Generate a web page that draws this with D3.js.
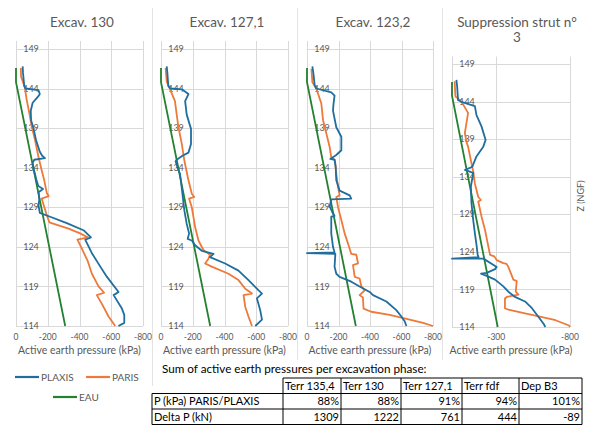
<!DOCTYPE html>
<html>
<head>
<meta charset="utf-8">
<script src="https://cdn.jsdelivr.net/npm/d3@7"></script>
<style>
  html, body { margin: 0; padding: 0; background: #fff; }
  svg { display: block; font-family: Lato, "Open Sans", sans-serif; }
</style>
</head>
<body>
<script>
// ---------------- DATA ----------------
const panelTitles = [["Excav. 130"], ["Excav. 127,1"], ["Excav. 123,2"], ["Suppression strut n°", "3"]];
const zTicks = [114, 119, 124, 129, 134, 139, 144, 149];
const pTicksA = [0, -200, -400, -600, -800];
const pTicksB = [-300, -800];

// [pressure kPa, Z NGF]
const eau = [[0, 146.6], [0, 144.8], [-310, 114]];

const plaxis130 = [[-42,146.8],[-44,146.0],[-52,144.3],[-60,144.0],[-141,143.8],[-150,143.3],[-140,143.0],[-105,142.2],[-93,141.2],[-95,140.0],[-110,139.0],[-126,137.5],[-150,136.0],[-165,135.5],[-182,135.2],[-115,135.0],[-105,134.6],[-112,133.8],[-128,132.5],[-140,131.7],[-170,131.3],[-142,130.9],[-147,130.0],[-142,129.2],[-150,128.3],[-215,127.8],[-320,127.0],[-425,126.1],[-472,125.2],[-436,124.9],[-478,123.2],[-531,121.5],[-573,120.2],[-646,118.3],[-615,117.9],[-667,116.2],[-682,115.4],[-682,114.4],[-645,114.0]];
const paris130 = [[-30,146.6],[-32,145.5],[-55,144.2],[-67,142.6],[-84,140.9],[-99,139.2],[-120,137.5],[-141,135.4],[-160,133.8],[-178,132.4],[-194,130.8],[-206,130.4],[-162,130.1],[-177,129.1],[-194,128.0],[-210,127.1],[-331,126.3],[-404,125.7],[-452,125.2],[-387,124.9],[-414,123.8],[-450,122.3],[-478,120.6],[-520,119.0],[-555,118.2],[-509,117.9],[-541,116.8],[-583,115.2],[-625,114.0]];

const plaxis1271 = [[-36,146.8],[-40,146.0],[-46,144.3],[-60,144.0],[-131,143.9],[-173,143.3],[-152,142.4],[-162,140.7],[-189,138.9],[-189,137.0],[-173,135.9],[-135,135.5],[-99,135.0],[-92,134.8],[-105,134.0],[-120,133.2],[-135,130.7],[-147,128.6],[-162,126.9],[-177,125.7],[-168,125.0],[-194,124.8],[-215,124.2],[-257,123.5],[-331,123.1],[-309,122.7],[-404,121.9],[-488,121.0],[-551,119.8],[-615,118.5],[-636,118.1],[-604,117.5],[-625,116.0],[-636,114.8],[-594,114.0]];
const paris1271 = [[-29,146.6],[-36,144.9],[-57,143.9],[-88,142.4],[-99,140.7],[-110,139.1],[-131,137.0],[-147,134.9],[-173,132.4],[-194,130.7],[-210,130.3],[-177,130.1],[-194,129.0],[-215,126.5],[-236,124.8],[-267,123.6],[-309,123.0],[-299,122.5],[-278,121.9],[-320,121.5],[-425,120.6],[-488,119.8],[-531,118.7],[-573,118.1],[-520,117.9],[-531,116.4],[-551,115.2],[-573,114.0]];

const plaxis1232 = [[-34,146.8],[-40,146.0],[-49,144.4],[-59,144.0],[-154,143.5],[-175,143.1],[-168,142.0],[-165,141.2],[-186,139.1],[-218,137.9],[-218,136.2],[-186,135.6],[-148,135.1],[-175,135.0],[-182,134.1],[-186,132.4],[-207,131.1],[-271,130.5],[-281,130.1],[-154,130.0],[-144,129.1],[-165,128.2],[-175,127.9],[-154,127.8],[-154,125.7],[-165,124.0],[-175,123.3],[0,123.2],[-180,123.1],[-175,121.5],[-186,120.6],[-207,120.2],[-281,119.6],[-334,119.0],[-398,118.3],[-419,117.9],[-504,117.1],[-567,116.0],[-599,115.2],[-620,114.6],[-631,114.0]];
const paris1232 = [[-28,146.5],[-34,144.8],[-59,144.0],[-91,142.1],[-102,140.0],[-123,138.3],[-144,136.6],[-154,135.3],[-175,135.0],[-180,134.5],[-186,133.2],[-197,131.6],[-207,130.5],[-186,130.3],[-197,129.0],[-218,127.4],[-239,125.7],[-267,124.0],[-281,123.1],[-313,123.0],[-324,121.9],[-292,121.7],[-303,120.2],[-334,120.0],[-345,119.0],[-366,118.5],[-334,117.9],[-355,117.6],[-359,116.2],[-408,115.8],[-525,115.4],[-652,114.8],[-737,114.4],[-800,114.0]];

const plaxisStrut = [[-30,146.9],[-35,146.0],[-41,144.2],[-59,144.0],[-155,143.4],[-166,142.2],[-200,140.7],[-228,138.9],[-212,138.0],[-166,136.7],[-137,135.3],[-87,134.9],[-144,134.5],[-128,132.7],[-132,130.5],[-144,128.2],[-155,126.5],[-167,124.8],[-174,123.6],[-180,123.3],[0,123.1],[-213,123.1],[-303,122.0],[-292,121.7],[-235,121.2],[-197,121.1],[-235,120.8],[-292,120.3],[-348,119.4],[-382,118.7],[-427,118.0],[-495,117.4],[-542,116.5],[-588,115.3],[-622,114.4],[-633,114.0]];
const parisStrut = [[-18,146.7],[-23,144.7],[-64,144.0],[-109,142.5],[-87,139.8],[-100,138.5],[-109,138.0],[-132,135.8],[-144,134.7],[-155,133.1],[-178,131.3],[-196,130.9],[-178,130.7],[-200,128.7],[-224,126.9],[-258,123.6],[-287,123.4],[-303,122.9],[-348,122.5],[-370,122.4],[-382,122.0],[-416,120.3],[-439,120.1],[-432,118.7],[-450,118.3],[-371,118.0],[-359,117.8],[-359,116.5],[-382,116.3],[-495,115.8],[-565,115.5],[-702,114.9],[-793,114.2],[-800,114.0]];

const plaxisSeries = [plaxis130, plaxis1271, plaxis1232, plaxisStrut];
const parisSeries = [paris130, paris1271, paris1232, parisStrut];

const seriesNames = ["PLAXIS", "PARIS", "EAU"];
const tableTitle = "Sum of active earth pressures per excavation phase:";
const tableHeaders = ["Terr 135,4", "Terr 130", "Terr 127,1", "Terr fdf", "Dep B3"];
const rowLabels = ["P (kPa) PARIS/PLAXIS", "Delta P (kN)"];
const ratioRow = ["88%", "88%", "91%", "94%", "101%"];
const deltaRow = ["1309", "1222", "761", "444", "-89"];

// ---------------- STYLE / LAYOUT ----------------
const W = 589, H = 430;
const C_BLUE = "#1F6E9E", C_ORANGE = "#EE7A3A", C_GREEN = "#23812F";
const C_TEXT = "#595959", C_GRID = "#D9D9D9";

const panels = [
  { x0: 16,  x1: 143, yTop: 41,   yBot: 326, ticks: pTicksA, titleX: 82,  titleY: 22 },
  { x0: 161, x1: 288, yTop: 41,   yBot: 326, ticks: pTicksA, titleX: 227, titleY: 22 },
  { x0: 307, x1: 433, yTop: 41,   yBot: 326, ticks: pTicksA, titleX: 373, titleY: 22 },
  { x0: 452, x1: 570, yTop: 56.5, yBot: 327, ticks: pTicksB, titleX: 517, titleY: 22 }
];

const svg = d3.select("body").append("svg").attr("width", W).attr("height", H);
svg.append("rect").attr("width", W).attr("height", H).attr("fill", "#fff");

// separators between chart boxes
[[152, 8, 386], [297, 8, 360], [442, 8, 360]].forEach(([x, a, b]) => {
  svg.append("line").attr("x1", x + 0.5).attr("x2", x + 0.5).attr("y1", a).attr("y2", b)
    .attr("stroke", "#E3E3E3").attr("stroke-width", 1);
});

panels.forEach((p, i) => {
  const x = d3.scaleLinear().domain([0, -800]).range([p.x0, p.x1]);
  const y = d3.scaleLinear().domain([114, 150]).range([p.yBot, p.yTop]);
  const g = svg.append("g");

  g.selectAll(".hg").data(zTicks).join("line")
    .attr("x1", p.x0).attr("x2", p.x1)
    .attr("y1", d => Math.round(y(d)) + 0.5).attr("y2", d => Math.round(y(d)) + 0.5)
    .attr("stroke", C_GRID);
  g.selectAll(".vg").data([0].concat(p.ticks)).join("line")
    .attr("x1", d => Math.round(x(d)) + 0.5).attr("x2", d => Math.round(x(d)) + 0.5)
    .attr("y1", p.yTop).attr("y2", p.yBot)
    .attr("stroke", C_GRID);

  g.selectAll(".yl").data(zTicks).join("text")
    .attr("x", p.x0 + 15).attr("y", d => y(d)).attr("dy", "0.35em")
    .attr("text-anchor", "middle").attr("font-size", 9).attr("fill", C_TEXT)
    .text(d => d);

  g.selectAll(".xl").data(p.ticks).join("text")
    .attr("x", d => x(d)).attr("y", 340)
    .attr("text-anchor", "middle").attr("font-size", 8.5).attr("fill", C_TEXT)
    .text(d => d);

  g.append("text").attr("x", (p.x0 + p.x1) / 2).attr("y", 354)
    .attr("text-anchor", "middle").attr("font-size", 10.5).attr("fill", C_TEXT)
    .text("Active earth pressure (kPa)");

  panelTitles[i].forEach((s, k) => {
    g.append("text").attr("x", p.titleX).attr("y", p.titleY + k * 15).attr("dy", "0.35em")
      .attr("text-anchor", "middle").attr("font-size", 13.5).attr("fill", C_TEXT).text(s);
  });

  const line = d3.line().x(d => x(d[0])).y(d => y(d[1]));
  g.append("path").datum(eau).attr("d", line).attr("fill", "none")
    .attr("stroke", C_GREEN).attr("stroke-width", 1.8);
  g.append("path").datum(parisSeries[i]).attr("d", line).attr("fill", "none")
    .attr("stroke", C_ORANGE).attr("stroke-width", 1.8).attr("stroke-linejoin", "round");
  g.append("path").datum(plaxisSeries[i]).attr("d", line).attr("fill", "none")
    .attr("stroke", C_BLUE).attr("stroke-width", 1.8).attr("stroke-linejoin", "round");
});

// secondary axis title
svg.append("text").attr("transform", "translate(581,196) rotate(-90)")
  .attr("text-anchor", "middle").attr("dy", "0.35em").attr("font-size", 9).attr("fill", C_TEXT)
  .text("Z (NGF)");

// legend
const legendItems = [
  { name: seriesNames[0], color: C_BLUE, lx: 15, ly: 377 },
  { name: seriesNames[1], color: C_ORANGE, lx: 86, ly: 377 },
  { name: seriesNames[2], color: C_GREEN, lx: 53, ly: 397 }
];
legendItems.forEach(d => {
  svg.append("line").attr("x1", d.lx).attr("x2", d.lx + 24).attr("y1", d.ly).attr("y2", d.ly)
    .attr("stroke", d.color).attr("stroke-width", 2.2);
  svg.append("text").attr("x", d.lx + 26).attr("y", d.ly).attr("dy", "0.35em")
    .attr("font-size", 10).attr("fill", C_TEXT).text(d.name);
});

// table
svg.append("text").attr("x", 162).attr("y", 369).attr("dy", "0.35em")
  .attr("font-size", 11.7).attr("fill", "#000").text(tableTitle);

const colX = [152, 283, 341, 401, 462, 519, 582];
const rowY = [378, 393.5, 409, 424.5];
const tg = svg.append("g").attr("stroke", "#000").attr("stroke-width", 1);
tg.append("line").attr("x1", colX[1]).attr("x2", colX[6]).attr("y1", rowY[0]).attr("y2", rowY[0]);
[1, 2, 3].forEach(r => tg.append("line").attr("x1", colX[0]).attr("x2", colX[6]).attr("y1", rowY[r]).attr("y2", rowY[r]));
colX.forEach((cx, c) => {
  tg.append("line").attr("x1", cx).attr("x2", cx).attr("y1", c === 0 ? rowY[1] : rowY[0]).attr("y2", rowY[3]);
});
const cellText = (s, xx, yy, anchor) => svg.append("text").attr("x", xx).attr("y", yy).attr("dy", "0.35em")
  .attr("text-anchor", anchor).attr("font-size", 11).attr("fill", "#000").text(s);
tableHeaders.forEach((h, c) => cellText(h, colX[c + 1] + 2, (rowY[0] + rowY[1]) / 2, "start"));
rowLabels.forEach((l, r) => cellText(l, colX[0] + 2, (rowY[r + 1] + rowY[r + 2]) / 2, "start"));
ratioRow.forEach((v, c) => cellText(v, colX[c + 2] - 2, (rowY[1] + rowY[2]) / 2, "end"));
deltaRow.forEach((v, c) => cellText(v, colX[c + 2] - 2, (rowY[2] + rowY[3]) / 2, "end"));
</script>
</body>
</html>
